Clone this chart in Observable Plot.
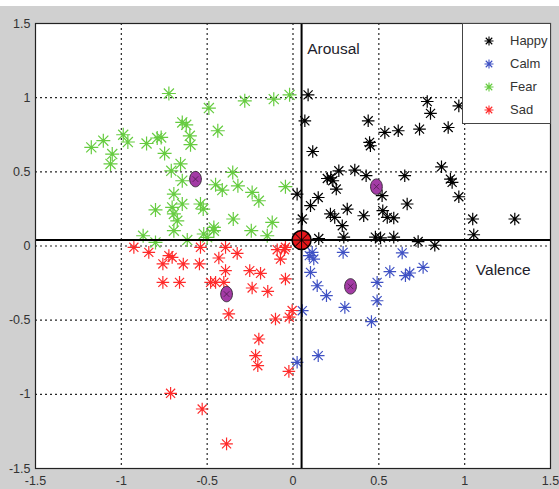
<!DOCTYPE html>
<html>
<head>
<meta charset="utf-8">
<script src="https://cdn.jsdelivr.net/npm/d3@7"></script>
<script src="https://cdn.jsdelivr.net/npm/@observablehq/plot@0.6"></script>
<style>
  html, body { margin: 0; padding: 0; background: #ffffff; }
  #wrap { position: relative; width: 559px; height: 489px; }
  #wrap > svg { display: block; }
  #legend {
    position: absolute; left: 462px; top: 23px; width: 89px; height: 101px;
    background: #ffffff; border: 1px solid #444; box-sizing: border-box;
    font-family: "Liberation Sans", Arial, sans-serif; font-size: 13px; color: #333;
  }
  .entry { position: absolute; left: 0; height: 20px; display: flex; align-items: center; }
  .entry svg { margin-left: 20px; background: none; }
  .entry span { margin-left: 15px; }
</style>
</head>
<body>
<div id="wrap"></div>
<script>
// ---------- data (valence, arousal) ----------
const emotions = ["Happy", "Calm", "Fear", "Sad"];
const colors = ["#000000", "#3f51c4", "#66cc40", "#ff2b2b"];

const happy = [
  [0.088,1.019],[0.069,0.844],[0.115,0.637],[0.438,0.844],[0.446,0.698],[0.451,0.676],[0.535,0.766],
  [0.613,0.777],[0.737,0.788],[0.782,0.974],[0.801,0.894],[0.966,0.945],[0.904,0.799],
  [0.200,0.455],[0.220,0.460],[0.232,0.440],[0.267,0.507],[0.252,0.384],[0.360,0.512],[0.426,0.474],[0.651,0.474],
  [0.147,0.327],[0.102,0.272],[0.316,0.249],[0.218,0.216],[0.243,0.193],[0.287,0.137],[0.412,0.204],
  [0.519,0.339],[0.523,0.238],[0.549,0.193],[0.587,0.189],[0.665,0.283],
  [0.024,0.350],[0.054,0.182],[0.865,0.534],[0.917,0.451],[0.927,0.429],[0.966,0.332],[1.047,0.182],
  [1.053,0.076],[1.292,0.182],
  [0.150,0.050],[0.296,0.060],[0.480,0.060],[0.510,0.055],[0.587,0.060],[0.729,0.030],[0.826,0.005]
];
const calm = [
  [0.112,-0.043],[0.121,-0.088],[0.095,-0.065],[0.102,-0.178],[0.141,-0.268],[0.195,-0.335],[0.054,-0.436],
  [0.302,-0.414],[0.292,-0.043],[0.457,-0.510],[0.490,-0.245],[0.490,-0.369],[0.564,-0.173],[0.636,-0.047],
  [0.655,-0.200],[0.680,-0.182],[0.758,-0.144],[0.147,-0.739],[0.024,-0.784]
];
const fear = [
  [-0.723,1.028],[-0.490,0.930],[-0.281,0.979],[-0.112,0.990],[-0.020,1.019],[-0.645,0.833],[-0.622,0.817],
  [-0.601,0.743],[-0.597,0.683],[-0.438,0.777],[-1.175,0.665],[-1.105,0.710],[-1.053,0.620],[-1.063,0.553],
  [-0.989,0.750],[-0.962,0.701],[-0.853,0.691],[-0.791,0.728],[-0.768,0.732],[-0.748,0.624],[-0.709,0.507],
  [-0.655,0.553],[-0.645,0.440],[-0.694,0.350],[-0.645,0.283],[-0.704,0.260],[-0.694,0.216],[-0.674,0.170],
  [-0.694,0.103],[-0.801,0.243],[-0.873,0.069],[-0.801,0.024],[-0.616,0.040],[-0.539,0.283],[-0.523,0.249],
  [-0.461,0.103],[-0.520,0.081],[-0.500,0.058],[-0.451,0.413],[-0.412,0.377],[-0.351,0.496],[-0.321,0.406],
  [-0.348,0.182],[-0.238,0.361],[-0.199,0.305],[-0.243,0.103],[-0.150,0.069],[-0.121,0.159],[-0.044,0.400],
  [-0.461,0.125]
];
const sad = [
  [-0.927,-0.009],[-0.840,-0.043],[-0.758,-0.121],[-0.723,-0.065],[-0.704,-0.077],[-0.639,-0.121],[-0.545,-0.121],
  [-0.539,-0.009],[-0.758,-0.245],[-0.661,-0.245],[-0.480,-0.245],[-0.451,-0.245],[-0.432,-0.081],[-0.393,-0.009],
  [-0.393,-0.166],[-0.403,-0.245],[-0.325,-0.050],[-0.374,-0.458],[-0.252,-0.166],[-0.189,-0.184],[-0.238,-0.283],
  [-0.147,-0.306],[-0.102,-0.492],[-0.199,-0.627],[-0.218,-0.739],[-0.205,-0.807],[-0.713,-0.993],[-0.529,-1.099],
  [-0.387,-1.334],[-0.092,-0.025],[-0.050,-0.025],[-0.044,-0.009],[-0.073,-0.088],[-0.044,-0.222],[-0.005,-0.435],
  [-0.022,-0.480],[-0.024,-0.845]
];
const centroids = [
  ["Happy", 0.486, 0.400], ["Calm", 0.335, -0.272], ["Fear", -0.568, 0.451], ["Sad", -0.387, -0.324]
];
const origin = [[0.05, 0.04]];
const xTicks = [-1.5, -1, -0.5, 0, 0.5, 1, 1.5];
const yTicks = [-1.5, -1, -0.5, 0, 0.5, 1, 1.5];
const gridTicks = [-1, -0.5, 0, 0.5, 1];
const annotations = [
  {text: "Arousal", v: 0.083, a: 1.33},
  {text: "Valence", v: 1.065, a: -0.16}
];

// ---------- symbols ----------
const asterisk = {
  draw(ctx, size) {
    const r = Math.sqrt(size / Math.PI);
    const d = r * 0.72;
    ctx.moveTo(-r, 0); ctx.lineTo(r, 0);
    ctx.moveTo(0, -r); ctx.lineTo(0, r);
    ctx.moveTo(-d, -d); ctx.lineTo(d, d);
    ctx.moveTo(-d, d); ctx.lineTo(d, -d);
  }
};
const ellipse = {
  draw(ctx, size) {
    const r = Math.sqrt(size / Math.PI);
    const rx = r * 0.76, ry = r, k = 0.5523;
    ctx.moveTo(rx, 0);
    ctx.bezierCurveTo(rx, ry * k, rx * k, ry, 0, ry);
    ctx.bezierCurveTo(-rx * k, ry, -rx, ry * k, -rx, 0);
    ctx.bezierCurveTo(-rx, -ry * k, -rx * k, -ry, 0, -ry);
    ctx.bezierCurveTo(rx * k, -ry, rx, -ry * k, rx, 0);
    ctx.closePath();
  }
};
const cross = {
  draw(ctx, size) {
    const r = Math.sqrt(size / Math.PI);
    ctx.moveTo(-r, -r); ctx.lineTo(r, r);
    ctx.moveTo(-r, r); ctx.lineTo(r, -r);
  }
};

const series = [happy, calm, fear, sad];
const points = series.flatMap((s, i) => s.map(([v, a]) => ({emotion: emotions[i], v, a})));
const cents = centroids.map(([emotion, v, a]) => ({emotion, v, a}));
const orig = origin.map(([v, a]) => ({v, a}));

const plot = Plot.plot({
  width: 559,
  height: 489,
  marginLeft: 35,
  marginRight: 9,
  marginTop: 23,
  marginBottom: 21,
  x: {domain: [-1.5, 1.5]},
  y: {domain: [-1.5, 1.5]},
  r: {type: "identity"},
  color: {domain: emotions, range: colors},
  style: {fontFamily: "'Liberation Sans', Arial, sans-serif", fontSize: "12px", color: "#333",
    background: "linear-gradient(#ffffff 0 6px, #d0d0d0 6px)"},
  marks: [
    Plot.frame({fill: "white", stroke: "none"}),
    Plot.gridX(gridTicks, {stroke: "#000", strokeOpacity: 0.85, strokeDasharray: "2,3", strokeWidth: 1.2}),
    Plot.gridY(gridTicks, {stroke: "#000", strokeOpacity: 0.85, strokeDasharray: "2,3", strokeWidth: 1.2}),
    Plot.axisX({ticks: xTicks, tickSize: 0, tickPadding: 8, tickFormat: d => String(d), label: null, fontSize: 12.5}),
    Plot.axisY({ticks: yTicks, tickSize: 0, tickPadding: 5, tickFormat: d => String(d), label: null, fontSize: 12.5}),
    Plot.dot(points, {x: "v", y: "a", stroke: "emotion", symbol: asterisk,
      r: d => d.emotion === "Fear" ? 7 : 6.3, strokeWidth: 1.2}),
    Plot.ruleX(orig, {x: "v", stroke: "#000", strokeWidth: 2}),
    Plot.ruleY(orig, {y: "a", stroke: "#000", strokeWidth: 2}),
    Plot.frame({stroke: "#222", strokeWidth: 1.2}),
    Plot.dot(cents, {x: "v", y: "a", symbol: ellipse, r: 7.7, fill: "#a33ba5", stroke: "#3a2a3a", strokeWidth: 1}),
    Plot.dot(cents, {x: "v", y: "a", symbol: cross, r: 2.8, stroke: "#4a1a4a", strokeWidth: 0.8}),
    Plot.dot(orig, {x: "v", y: "a", r: 9.5, fill: "#e5161b", stroke: "#000", strokeWidth: 1.5}),
    Plot.dot(orig, {x: "v", y: "a", symbol: asterisk, r: 9, stroke: "#000", strokeWidth: 1}),
    Plot.text(annotations, {x: "v", y: "a", text: "text", textAnchor: "start", fontSize: 15.5,
      fontFamily: "'Liberation Sans', Arial, sans-serif", fill: "#1d1d2b"})
  ]
});

const wrap = document.getElementById("wrap");
wrap.appendChild(plot);

// ---------- legend ----------
const legend = document.createElement("div");
legend.id = "legend";
emotions.forEach((name, i) => {
  const row = document.createElement("div");
  row.className = "entry";
  row.style.top = (6.5 + i * 23) + "px";
  const s = d3.create("svg").attr("width", 12).attr("height", 12);
  s.append("path")
    .attr("transform", "translate(6,6)")
    .attr("d", d3.symbol(asterisk, Math.PI * 4.5 * 4.5)())
    .attr("stroke", colors[i]).attr("stroke-width", 1.1).attr("fill", "none");
  row.appendChild(s.node());
  const t = document.createElement("span");
  t.textContent = name;
  row.appendChild(t);
  legend.appendChild(row);
});
wrap.appendChild(legend);
</script>
</body>
</html>
